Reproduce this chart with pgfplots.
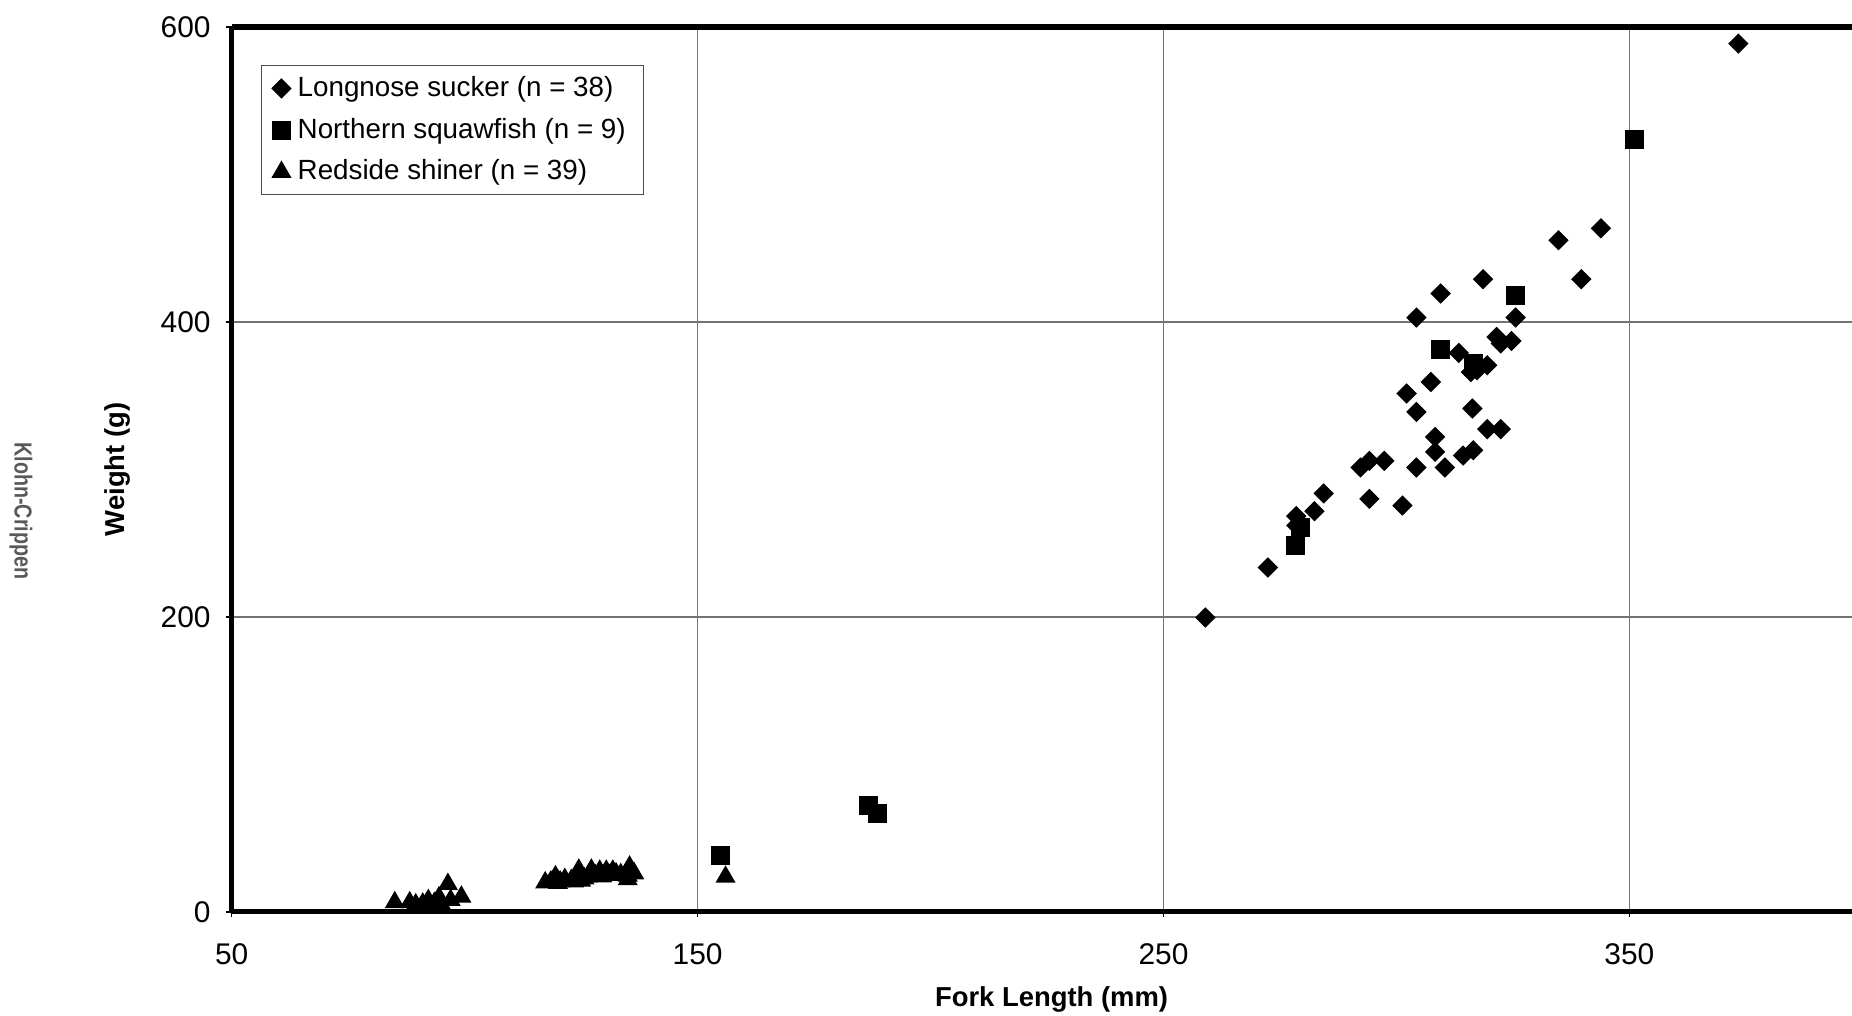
\documentclass[border=0pt]{standalone}
\usepackage{pgfplots}
\pgfplotsset{compat=1.18}
\usepackage{fontspec}
\setmainfont{Liberation Sans}
\usepackage{graphicx}

\begin{document}
\begin{tikzpicture}
\begin{axis}[
  scale only axis,
  width=16.2cm, height=8.847cm,
  xmin=50, xmax=397.8, ymin=0, ymax=600,
  xtick={50,150,250,350}, ytick={0,200,400,600},
  axis x line*=box, axis y line*=left,
  axis line style={line width=1.5pt},
  xtick pos=left, ytick pos=left,
  tick align=outside, major tick length=1.5pt,
  tick style={black, line width=0.4pt},
  grid=major,
  major grid style={black!55, line width=0.45pt},
  /pgf/number format/assume math mode=true,
  ticklabel style={font=\fontsize{8.5}{10}\selectfont},
  xticklabel style={yshift=-4pt},
  yticklabel style={xshift=-1pt},
  xlabel={Fork Length (mm)},
  ylabel={Weight (g)},
  xlabel style={at={(axis description cs:0.506,-0.0987)}, anchor=center, font=\bfseries\fontsize{7.8}{9}\selectfont},
  ylabel style={at={(axis description cs:-0.0702,0.5)}, anchor=center, font=\bfseries\fontsize{7.8}{9}\selectfont},
  legend style={at={(axis description cs:0.0181,0.957)}, anchor=north west,
    draw=black!70, line width=0.4pt, font=\fontsize{7.9}{9}\selectfont,
    inner xsep=3pt, inner ysep=0.5pt,
    nodes={text height=6pt, text depth=1.5pt, inner ysep=2.2pt}},
  legend cell align=left,
  legend image code/.code={\draw[#1] plot[only marks] coordinates {(0pt,0pt)};},
]
% Longnose sucker
\addplot[only marks, mark=square*, mark size=1.85pt, mark options={rotate=45, fill=black, draw=black}]
coordinates {
(259,199.6) (272.4,233.5) (278.5,268.3) (278.5,262) (282.4,271.7) (284.4,283.7)
(292.3,301.3) (294.2,305.8) (297.4,305.8) (294.2,280) (301.3,275.5) (304.3,301.3)
(308.3,322) (308.3,311.9) (310.4,301.3) (314.3,309.4) (316.5,313) (319.5,327.3)
(322.4,327.3) (316.3,341.3) (302.2,351.5) (304.3,339) (307.4,359.3) (313.4,379)
(317.3,367.3) (316,366) (319.5,370.6) (321.5,389.8) (322.4,385.4) (324.7,387.1)
(325.6,403) (304.3,403) (309.5,419.3) (318.6,429) (339.7,429) (334.8,455.4)
(343.9,463.5) (373.4,588.7)
};
\addlegendentry{Longnose sucker (n = 38)}
% Northern squawfish
\addplot[only marks, mark=square*, mark size=2.5pt, mark options={fill=black, draw=black}]
coordinates {
(155,38) (186.6,72) (188.6,66.4) (278.4,248.4) (279.4,260.6)
(309.5,381.5) (316.5,371.8) (325.6,417.6) (351.2,523.6)
};
\addlegendentry{Northern squawfish (n = 9)}
% Redside shiner
\addplot[only marks, mark=triangle*, mark size=2.9pt, mark options={fill=black, draw=black}]
coordinates {
(85,6.4) (88.2,6.4) (89.5,5) (91,5.5) (92.2,7.9) (93.5,6) (94.5,9.8) (95,5)
(96.4,18.8) (97,8) (99.3,10.2)
(117.3,19.9) (118.5,20.5) (119.5,24) (120,19.5) (120.5,20.5) (121.5,22.2)
(122.9,21.5) (123.5,20.5) (124.5,28.5) (125,21) (125.7,22.6) (126.5,24)
(127.2,28.5) (128,25) (129,27.8) (129.5,24) (130.4,27.8) (131,25) (131.8,27.8)
(132.5,26) (133.5,25.5) (134.7,26) (135,24.5) (135.4,30.6) (135.8,28)
(136.4,26) (135,22)
(156,23.7)
};
\addlegendentry{Redside shiner (n = 39)}
\coordinate (bbl) at (rel axis cs:-0.143,-0.1168);
\coordinate (btr) at (rel axis cs:1,1.0305);
\coordinate (kc) at (rel axis cs:-0.130,0.453);
\end{axis}
\node[text=black!65, font=\bfseries\fontsize{7}{8}\selectfont, rotate=-90]
  at (kc) {\scalebox{0.8}[1]{Klohn-Crippen}};
\pgfresetboundingbox
\path[use as bounding box] (bbl) rectangle (btr);
\end{tikzpicture}
\end{document}
